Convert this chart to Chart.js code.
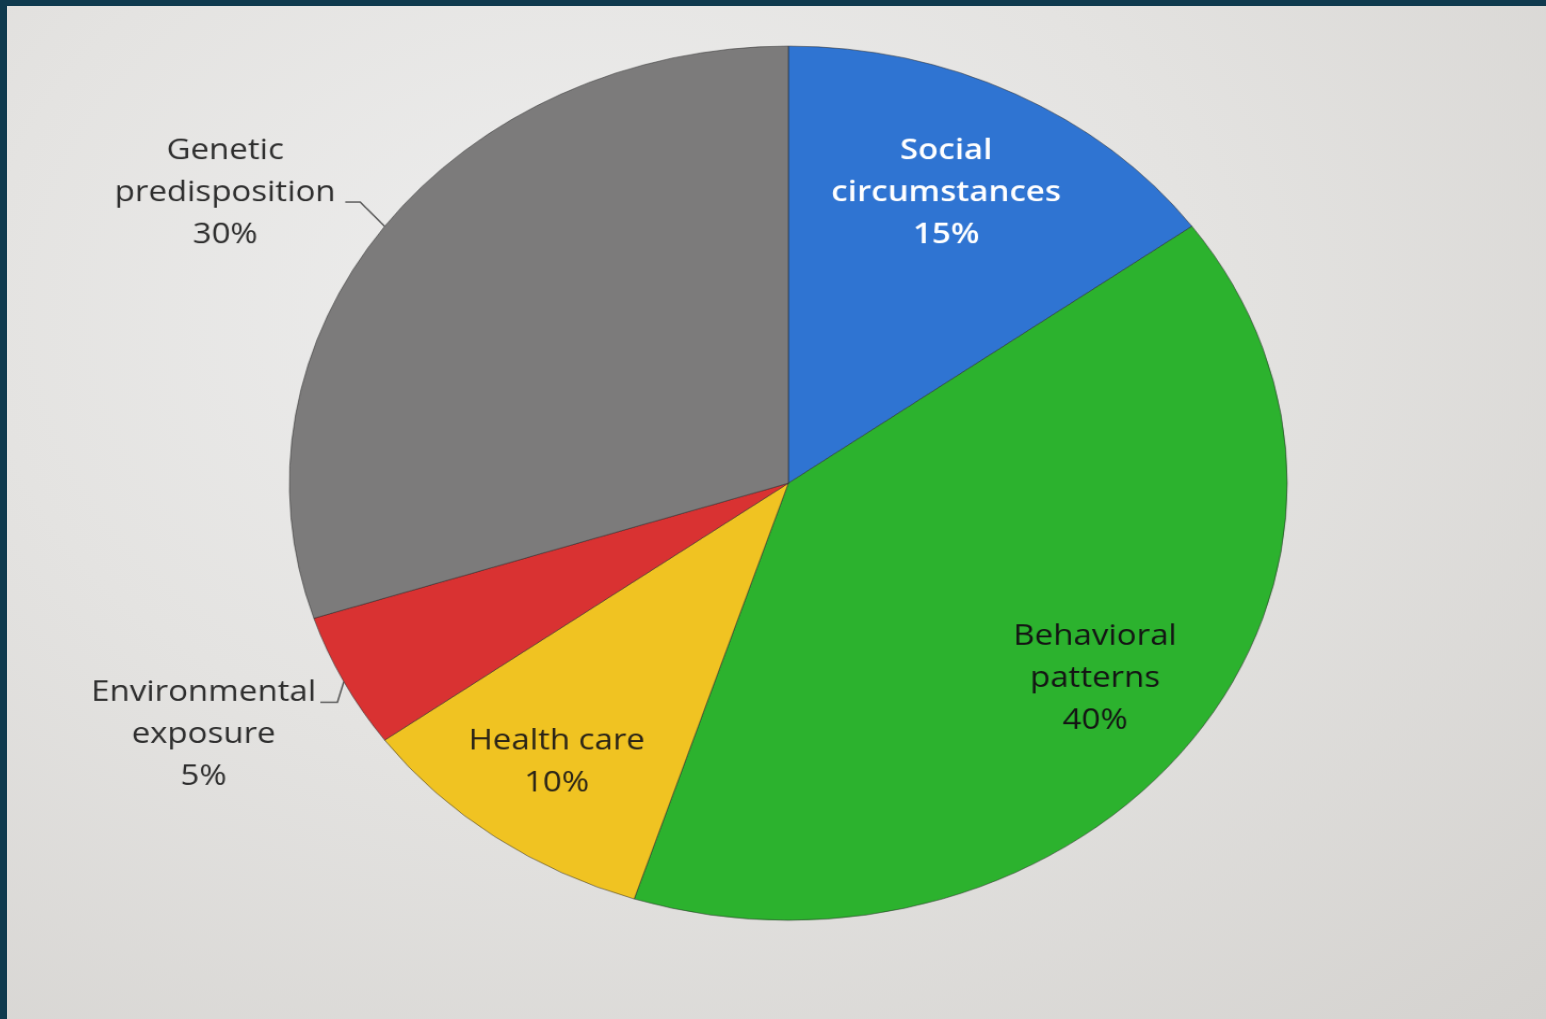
<!DOCTYPE html>
<html><head><meta charset="utf-8">
<script src="https://cdn.jsdelivr.net/npm/chart.js@4.4.1/dist/chart.umd.min.js"></script>
<style>
html,body{margin:0;padding:0;width:1546px;height:1019px;overflow:hidden;background:#0f3a4e;}
#screen{position:absolute;left:7px;top:6px;width:1539px;height:1013px;
  background:radial-gradient(ellipse at 38% 30%, #eeeeee 0%, #e4e3e1 45%, #d4d2cf 100%);}
#wrap{position:absolute;left:8px;top:5px;width:1464px;height:1024px;transform-origin:0 0;transform:scale(1.066,0.934);}
canvas{display:block;}
</style></head><body>
<div id="screen"></div>
<div id="wrap"><canvas id="c" width="1464" height="1024" style="width:1464px;height:1024px"></canvas></div>
<script>
const categories = ['Social circumstances','Behavioral patterns','Health care','Environmental exposure','Genetic predisposition'];
const shares = [15, 40, 10, 5, 30];
const labelLines = [['Social','circumstances'],['Behavioral','patterns'],['Health care'],['Environmental','exposure'],['Genetic','predisposition']];
const sliceColors = ['#2f74d2','#2cb22e','#f0c322','#d93232','#7c7b7b'];

const labelStyle = [
  {mode:'in', r:0.735, ang:-1.5, color:'#ffffff', weight:'600'},
  {mode:'in', r:0.76, ang:0, color:'#141414', weight:'normal'},
  {mode:'in', r:0.79, ang:0, color:'#2a2418', weight:'normal'},
  {mode:'out', dx:-6, dy:22, seg:16, gap:4, anchorLine:0, color:'#2e2e2e', weight:'normal'},
  {mode:'out', dx:-23, dy:-26, seg:14, gap:9, anchorLine:1, color:'#2e2e2e', weight:'normal'}
];
const FONT_SIZE = 31;
const FONT_FAMILY = '"Open Sans", "DejaVu Sans", sans-serif';
const LINE_H = 45;

const sliceLabels = {
  id: 'sliceLabels',
  afterDatasetsDraw(chart) {
    const ctx = chart.ctx;
    const meta = chart.getDatasetMeta(0);
    const data = chart.data.datasets[0].data;
    ctx.save();
    ctx.textAlign = 'center';
    ctx.textBaseline = 'middle';
    meta.data.forEach((arc, i) => {
      const p = arc.getProps(['x','y','startAngle','endAngle','outerRadius'], true);
      const mid = (p.startAngle + p.endAngle) / 2;
      const st = labelStyle[i];
      ctx.font = st.weight + ' ' + FONT_SIZE + 'px ' + FONT_FAMILY;
      const lines = labelLines[i].concat([data[i] + '%']);
      ctx.fillStyle = st.color;
      if (st.mode === 'in') {
        const a = mid + st.ang * Math.PI / 180;
        const cx = p.x + Math.cos(a) * p.outerRadius * st.r;
        const cy = p.y + Math.sin(a) * p.outerRadius * st.r;
        const top = cy - (lines.length - 1) * LINE_H / 2;
        lines.forEach((t, k) => ctx.fillText(t, cx, top + k * LINE_H));
      } else {
        const ex = p.x + Math.cos(mid) * p.outerRadius;
        const ey = p.y + Math.sin(mid) * p.outerRadius;
        const bx = ex + st.dx, by = ey + st.dy;
        const sx = bx - st.seg;
        ctx.strokeStyle = '#555555';
        ctx.lineWidth = 1.5;
        ctx.beginPath();
        ctx.moveTo(ex, ey);
        ctx.lineTo(bx, by);
        ctx.lineTo(sx, by);
        ctx.stroke();
        const maxW = Math.max(...lines.map(t => ctx.measureText(t).width));
        const cx = sx - st.gap - maxW / 2;
        const ay = by - 10;
        lines.forEach((t, k) => ctx.fillText(t, cx, ay + (k - st.anchorLine) * LINE_H));
      }
    });
    ctx.restore();
  }
};

new Chart(document.getElementById('c'), {
  type: 'pie',
  data: {
    labels: categories,
    datasets: [{
      data: shares,
      backgroundColor: sliceColors,
      borderColor: 'rgba(40,40,40,0.55)',
      borderWidth: 1
    }]
  },
  options: {
    responsive: false,
    devicePixelRatio: 1,
    animation: false,
    radius: 468,
    layout: {padding: 0},
    plugins: {legend: {display: false}, tooltip: {enabled: false}}
  },
  plugins: [sliceLabels]
});
</script>
</body></html>
